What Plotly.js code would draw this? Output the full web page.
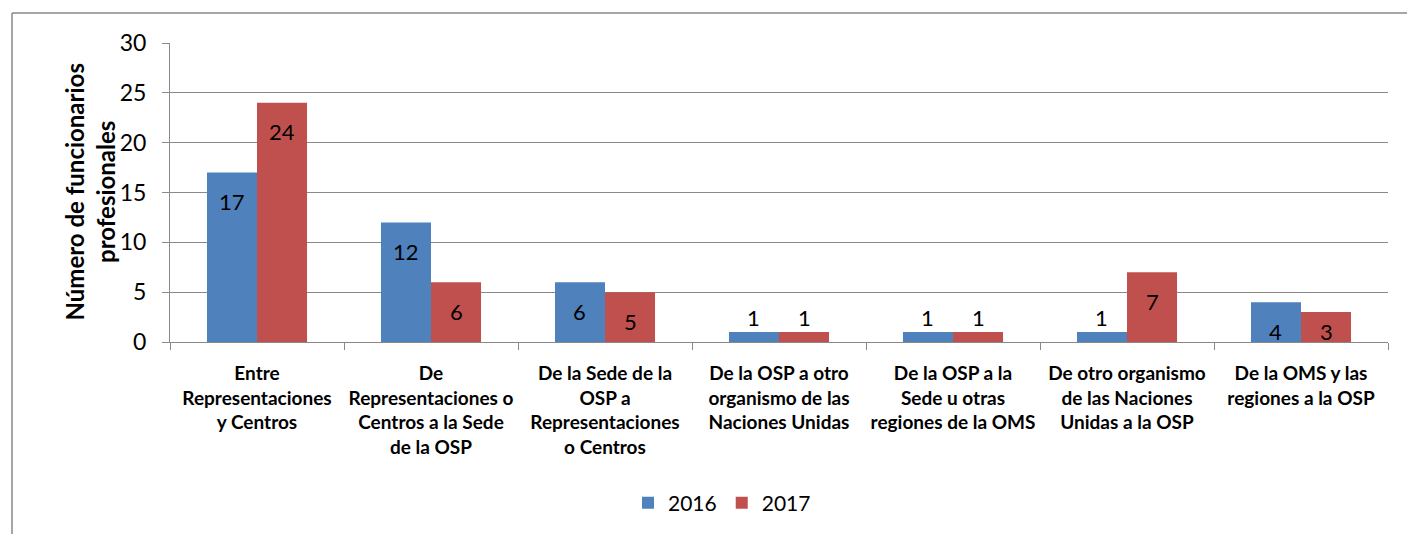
<!DOCTYPE html>
<html>
<head>
<meta charset="utf-8">
<script src="https://cdn.plot.ly/plotly-3.0.1.min.js"></script>
<style>
html,body{margin:0;padding:0;background:#fff;}
#chart{width:1407px;height:534px;}
</style>
</head>
<body>
<div id="chart"></div>
<script>
var categories = [
  "Entre<br>Representaciones<br>y Centros",
  "De<br>Representaciones o<br>Centros a la Sede<br>de la OSP",
  "De la Sede de la<br>OSP a<br>Representaciones<br>o Centros",
  "De la OSP a otro<br>organismo de las<br>Naciones Unidas",
  "De la OSP a la<br>Sede u otras<br>regiones de la OMS",
  "De otro organismo<br>de las Naciones<br>Unidas a la OSP",
  "De la OMS y las<br>regiones a la OSP"
];
var values2016 = [17, 12, 6, 1, 1, 1, 4];
var values2017 = [24, 6, 5, 1, 1, 7, 3];
var seriesNames = ["2016", "2017"];
var yTickVals = [0, 5, 10, 15, 20, 25, 30];

var FONT = "Lato, 'Open Sans', sans-serif";
var W = 1407, H = 534;
var M = {l: 170, r: 19, t: 43, b: 191};
var plotW = W - M.l - M.r, plotH = H - M.t - M.b;
var yMax = 30;
var bargap = 0.425;
var catW = plotW / categories.length;
var barW = catW * (1 - bargap) / 2;
var pxPerUnit = plotH / yMax;

function labelShift(v) {
  var h = v * pxPerUnit;
  if (h < 20) return 15;           // above the bar
  return -Math.min(29, h - 11);    // inside, near the top
}

var annotations = [];
[values2016, values2017].forEach(function (vals, s) {
  vals.forEach(function (v, i) {
    annotations.push({
      x: categories[i], y: v, xref: 'x', yref: 'y',
      text: String(v), showarrow: false,
      xshift: (s === 0 ? -1 : 1) * barW / 2,
      yshift: labelShift(v),
      font: {family: FONT, size: 22, color: '#000'}
    });
  });
});

// y-axis title as two centered lines
annotations.push({
  xref: 'paper', yref: 'paper', x: (89 - M.l) / plotW, y: 0.5,
  xanchor: 'center', yanchor: 'middle',
  text: "<b>Número de funcionarios<br>profesionales</b>", showarrow: false,
  textangle: -90, font: {family: FONT, size: 24, color: '#000', weight: 'bold'}
});

var shapes = [
  {type: 'line', xref: 'paper', yref: 'paper',
   x0: (12 - M.l) / plotW, x1: (W + 5 - M.l) / plotW,
   y0: (H - M.b - 13) / plotH, y1: (H - M.b - 13) / plotH,
   line: {color: '#898989', width: 1.5}},
  {type: 'line', xref: 'paper', yref: 'paper',
   x0: (12 - M.l) / plotW, x1: (12 - M.l) / plotW,
   y0: (H - M.b - 13) / plotH, y1: (-M.b - 5) / plotH,
   line: {color: '#898989', width: 1.5}}
];

var data = [
  {type: 'bar', name: seriesNames[0], x: categories, y: values2016,
   marker: {color: '#4F81BD'}, hoverinfo: 'none'},
  {type: 'bar', name: seriesNames[1], x: categories, y: values2017,
   marker: {color: '#C0504D'}, hoverinfo: 'none'}
];

var layout = {
  width: W, height: H,
  margin: M,
  paper_bgcolor: '#fff', plot_bgcolor: '#fff',
  barmode: 'group', bargap: bargap, bargroupgap: 0,
  showlegend: true,
  legend: {orientation: 'h', x: (722 - M.l) / plotW, xanchor: 'center',
           y: (H - M.b - 503) / plotH, yanchor: 'middle',
           font: {family: FONT, size: 21, color: '#000'},
           itemwidth: 30, traceorder: 'normal'},
  xaxis: {type: 'category', tickson: 'boundaries', ticks: 'outside',
          ticklen: 7, tickcolor: '#898989', showline: true, linecolor: '#898989',
          linewidth: 1, showgrid: false, fixedrange: true, ticklabelstandoff: 14,
          tickfont: {family: FONT, size: 19, color: '#000', weight: 'bold'}},
  yaxis: {range: [0, yMax], tickvals: yTickVals, ticks: 'outside', ticklen: 7,
          tickcolor: '#898989', showline: true, linecolor: '#898989', linewidth: 1,
          showgrid: true, gridcolor: '#898989', gridwidth: 1, zeroline: false,
          tickfont: {family: FONT, size: 23, color: '#000'}, ticklabelstandoff: 11,
          fixedrange: true},
  annotations: annotations,
  shapes: shapes
};

Plotly.newPlot('chart', data, layout, {displayModeBar: false, staticPlot: true});
</script>
</body>
</html>
